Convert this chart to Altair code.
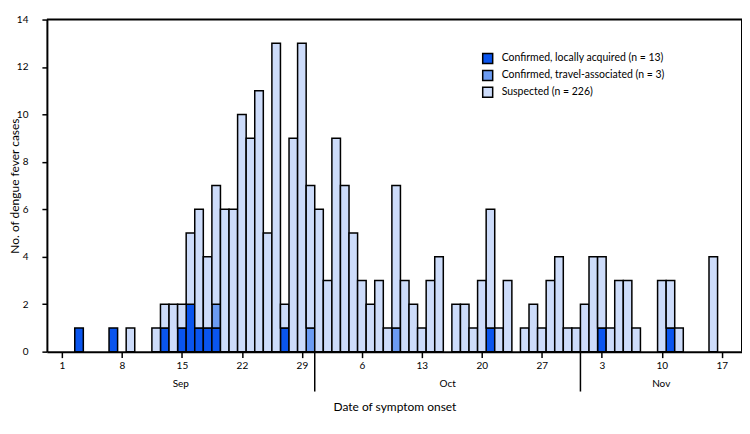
import altair as alt
import pandas as pd

# ---- data ----
local_dates = ["Sep 3", "Sep 7", "Sep 13", "Sep 15", "Sep 16", "Sep 17", "Sep 18",
               "Sep 19", "Sep 27", "Oct 21", "Nov 3", "Nov 11"]
local_counts = [1, 1, 1, 1, 2, 1, 1, 1, 1, 1, 1, 1]

travel_dates = ["Sep 19", "Sep 30", "Oct 10"]
travel_counts = [1, 1, 1]

suspected_dates = [
    "Sep 9", "Sep 12", "Sep 13", "Sep 14", "Sep 15", "Sep 16", "Sep 17", "Sep 18",
    "Sep 19", "Sep 20", "Sep 21", "Sep 22", "Sep 23", "Sep 24", "Sep 25", "Sep 26",
    "Sep 27", "Sep 28", "Sep 29", "Sep 30",
    "Oct 1", "Oct 2", "Oct 3", "Oct 4", "Oct 5", "Oct 6", "Oct 7", "Oct 8", "Oct 9",
    "Oct 10", "Oct 11", "Oct 12", "Oct 13", "Oct 14", "Oct 15", "Oct 17", "Oct 18",
    "Oct 19", "Oct 20", "Oct 21", "Oct 22", "Oct 23", "Oct 25", "Oct 26", "Oct 27",
    "Oct 28", "Oct 29", "Oct 30", "Oct 31",
    "Nov 1", "Nov 2", "Nov 3", "Nov 4", "Nov 5", "Nov 6", "Nov 7", "Nov 10",
    "Nov 11", "Nov 12", "Nov 16"]
suspected_counts = [
    1, 1, 1, 2, 1, 3, 5, 3,
    5, 6, 6, 10, 9, 11, 5, 13,
    1, 9, 13, 6,
    6, 3, 9, 7, 5, 3, 2, 3, 1,
    6, 3, 2, 1, 3, 4, 2, 2,
    1, 3, 5, 1, 3, 1, 2, 1,
    3, 4, 1, 1,
    2, 4, 3, 1, 3, 3, 1, 3,
    2, 1, 4]

categories = ["Confirmed, locally acquired (n = 13)",
              "Confirmed, travel-associated (n = 3)",
              "Suspected (n = 226)"]
colors = ["#0a55ee", "#6b9bf2", "#cddcfa"]

months = ["Sep", "Oct", "Nov"]
month_start = {"Sep": 0, "Oct": 30, "Nov": 61}   # day index of the 1st
tick_days = list(range(0, 78, 7))                 # Sep 1, 8, ... Nov 17
x_min, x_max = -1.75, 79.35                        # visible day range

def day_index(s):
    m, d = s.split()
    return month_start[m] + int(d) - 1

rows = []
for order, (cat, ds, cs) in enumerate([(categories[0], local_dates, local_counts),
                                       (categories[1], travel_dates, travel_counts),
                                       (categories[2], suspected_dates, suspected_counts)]):
    for d, c in zip(ds, cs):
        di = day_index(d)
        rows.append({"day": di, "x0": di - 0.5, "x1": di + 0.5,
                     "count": c, "cat": cat, "order": order})
df = pd.DataFrame(rows)

# month labels centred on each visible month segment
bounds = [x_min, 29.5, 60.5, x_max]
mdf = pd.DataFrame({"month": months,
                    "mid": [(bounds[i] + bounds[i + 1]) / 2 for i in range(3)]})
sep_df = pd.DataFrame({"b": bounds[1:3]})

W, H = 697, 333
FONT = "Lato"

xscale = alt.Scale(domain=[x_min, x_max], nice=False, zero=False)

bars = alt.Chart(df).transform_stack(
    stack="count", as_=["y0", "y1"], groupby=["day"],
    sort=[alt.SortField("order", order="ascending")]
).mark_bar(stroke="black", strokeWidth=1.5).encode(
    x=alt.X("x0:Q", scale=xscale,
            axis=alt.Axis(values=tick_days,
                          labelExpr="datum.value < 30 ? datum.value + 1 : (datum.value < 61 ? datum.value - 29 : datum.value - 60)",
                          title="Date of symptom onset", titlePadding=31,
                          titleFontSize=12, titleFontWeight="normal",
                          labelFontSize=10, labelPadding=3, tickSize=6,
                          domainColor="black", domainWidth=2,
                          tickColor="black", tickWidth=1.5,
                          grid=False)),
    x2="x1:Q",
    y=alt.Y("y0:Q", scale=alt.Scale(domain=[0, 14], nice=False),
            axis=alt.Axis(values=list(range(0, 15, 2)), title="No. of dengue fever cases",
                          titleFontSize=12, titleFontWeight="normal",
                          titleX=-32, titleY=H / 2, titleAngle=-90,
                          titleAlign="center", titleBaseline="middle",
                          labelFontSize=10, labelPadding=14, tickSize=5,
                          domainColor="black", domainWidth=2,
                          tickColor="black", tickWidth=1.5,
                          grid=False)),
    y2="y1:Q",
    color=alt.Color("cat:N", scale=alt.Scale(domain=categories, range=colors),
                    legend=alt.Legend(title=None, orient="none", legendX=436, legendY=33,
                                      symbolType="square", symbolSize=100,
                                      symbolStrokeColor="black", symbolStrokeWidth=1.5,
                                      symbolOpacity=1, labelLimit=400,
                                      labelFontSize=10.5, labelOffset=8, rowPadding=1,
                                      padding=0, labelFont=FONT)),
    order=alt.Order("order:Q")
)

month_text = alt.Chart(mdf).mark_text(fontSize=10, font=FONT, baseline="middle").encode(
    x=alt.X("mid:Q", scale=xscale),
    y=alt.value(H + 32),
    text="month:N"
)

month_rules = alt.Chart(sep_df).mark_rule(color="black", strokeWidth=1.5).encode(
    x=alt.X("b:Q", scale=xscale),
    y=alt.value(H),
    y2=alt.value(H + 40)
)

# plot frame (top and right edges)
frame_top = alt.Chart(pd.DataFrame({"k": [0]})).mark_rule(color="black", strokeWidth=2).encode(
    x=alt.value(0), x2=alt.value(W), y=alt.value(0)
)
frame_right = alt.Chart(pd.DataFrame({"k": [0]})).mark_rule(color="black", strokeWidth=2).encode(
    x=alt.value(W), y=alt.value(0), y2=alt.value(H)
)

chart = alt.layer(bars, month_rules, month_text, frame_top, frame_right).properties(
    width=W, height=H,
    autosize=alt.AutoSizeParams(type="none"),
    padding={"left": 39, "top": 11, "right": 0, "bottom": 80}
).configure_view(
    stroke=None
).configure_axis(
    labelColor="black", titleColor="black", labelFont=FONT, titleFont=FONT
).configure_legend(
    labelColor="black"
)

chart.save("out.html", embed_options={"renderer": "svg", "actions": False})
